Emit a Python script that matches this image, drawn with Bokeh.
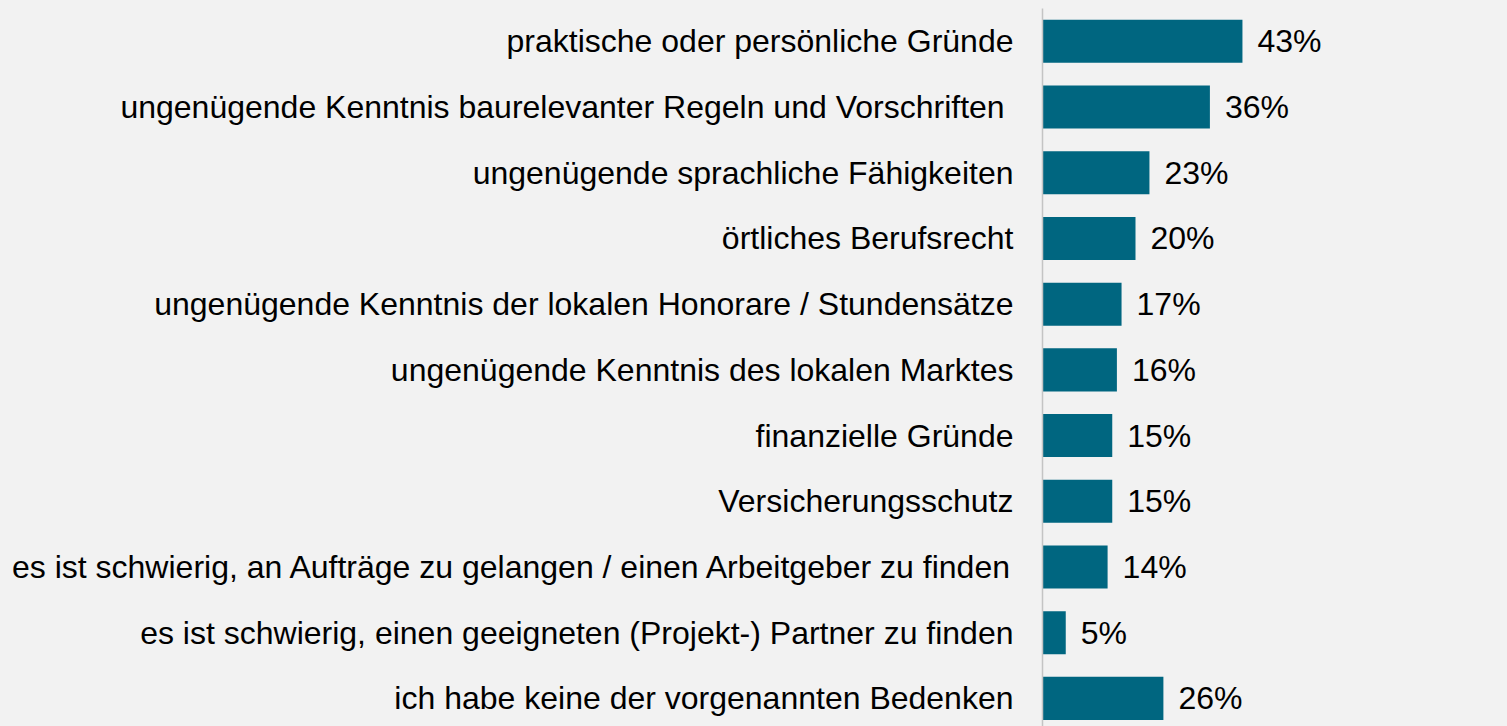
from bokeh.plotting import figure
from bokeh.models import Range1d, FixedTicker, ColumnDataSource
from bokeh.embed import file_html
from bokeh.resources import INLINE
from bokeh.core.properties import value

categories = [
    "praktische oder persönliche Gründe",
    "ungenügende Kenntnis baurelevanter Regeln und Vorschriften ",
    "ungenügende sprachliche Fähigkeiten",
    "örtliches Berufsrecht",
    "ungenügende Kenntnis der lokalen Honorare / Stundensätze",
    "ungenügende Kenntnis des lokalen Marktes",
    "finanzielle Gründe",
    "Versicherungsschutz",
    "es ist schwierig, an Aufträge zu gelangen / einen Arbeitgeber zu finden",
    "es ist schwierig, einen geeigneten (Projekt-) Partner zu finden",
    "ich habe keine der vorgenannten Bedenken",
]
values = [43, 36, 23, 20, 17, 16, 15, 15, 14, 5, 26]
labels = [f"{v}%" for v in values]

n = len(categories)
ypos = [n - 1 - i for i in range(n)]

BG = "#f2f2f2"
BAR = "#006680"
FONT = "Liberation Sans"

src = ColumnDataSource(dict(y=ypos, v=values, lab=labels))

p = figure(width=1507, height=726, output_backend="svg", toolbar_location=None,
           x_range=Range1d(0, 100), y_range=Range1d(-0.428, 10.5),
           min_border_left=1042, min_border_right=0, min_border_top=8, min_border_bottom=0)
p.background_fill_color = BG
p.border_fill_color = BG
p.outline_line_color = None
p.xgrid.visible = False
p.ygrid.visible = False
p.xaxis.visible = False

p.hbar(y="y", right="v", left=0, height=0.655, source=src, fill_color=BAR, line_color=None)
p.text(x="v", y="y", text="lab", source=src, x_offset=15, text_align="left",
       text_baseline="middle", text_font=value(FONT), text_font_size="32px", text_color="#000000")

ya = p.yaxis[0]
ya.ticker = FixedTicker(ticks=ypos)
ya.major_label_overrides = {y: c for y, c in zip(ypos, categories)}
ya.major_label_text_font = FONT
ya.major_label_text_font_size = "32px"
ya.major_label_text_color = "#000000"
ya.major_label_standoff = 23
ya.major_tick_line_color = None
ya.minor_tick_line_color = None
ya.axis_line_color = "#c4c4c4"
ya.axis_line_width = 1.5

html = file_html(p, INLINE)
html = html.replace("<head>", "<head><style>body{background:#f2f2f2}</style>", 1)
open("out.html", "w").write(html)
